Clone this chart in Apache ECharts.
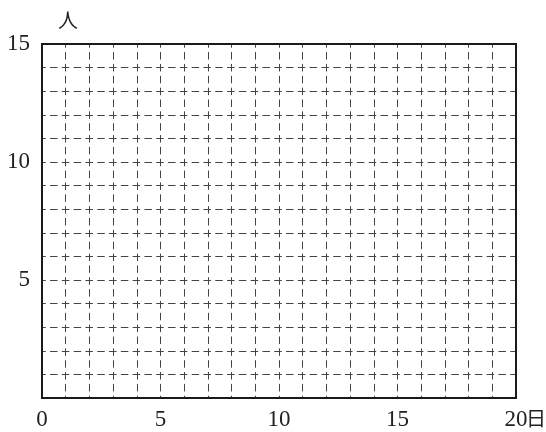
<!DOCTYPE html>
<html><head><meta charset="utf-8">
<script src="https://cdn.jsdelivr.net/npm/echarts@6/dist/echarts.min.js"></script>
<style>html,body{margin:0;padding:0;background:#fff}#c{width:546px;height:432px}</style>
</head><body><div id="c"></div>
<script>
const xMin = 0, xMax = 20, yMin = 0, yMax = 15;
const xTickLabels = [0, 5, 10, 15, 20];
const yTickLabels = [5, 10, 15];
const xName = '日';
const yName = '人';

const font = '"Liberation Serif", "DejaVu Serif", serif';
const chart = echarts.init(document.getElementById('c'), null, {renderer: 'canvas'});
chart.setOption({
  animation: false,
  grid: {left: 42, top: 44, right: 30, bottom: 34, containLabel: false, outerBoundsMode: 'none',
    show: true, borderColor: '#1a1a1a', borderWidth: 2, backgroundColor: 'transparent', z: 5},
  xAxis: {
    type: 'value', min: xMin, max: xMax, interval: 1,
    name: xName, nameLocation: 'end', nameGap: 10, nameMoveOverlap: false,
    nameTextStyle: {fontFamily: '"Noto Sans CJK JP", serif', fontSize: 20, color: '#222', align: 'left', verticalAlign: 'top', padding: [10, 0, 0, 0]},
    axisLine: {show: true, onZero: false, lineStyle: {color: '#1a1a1a', width: 2}},
    axisTick: {show: false},
    axisLabel: {margin: 10, fontFamily: font, fontSize: 23, color: '#222',
      formatter: v => xTickLabels.includes(v) ? String(v) : ''},
    splitLine: {show: true, showMinLine: false, showMaxLine: false,
      lineStyle: {color: '#444', width: 1, type: [7.5, 4.35], dashOffset: 3.75}}
  },
  yAxis: {
    type: 'value', min: yMin, max: yMax, interval: 1,
    name: yName, nameLocation: 'end', nameGap: 14, nameMoveOverlap: false,
    nameTextStyle: {fontFamily: '"Noto Sans CJK JP", serif', fontSize: 20, color: '#222', align: 'center', padding: [0, 0, 0, 52]},
    axisLine: {show: true, onZero: false, lineStyle: {color: '#1a1a1a', width: 2}},
    axisTick: {show: false},
    axisLabel: {margin: 12, fontFamily: font, fontSize: 23, color: '#222',
      formatter: v => yTickLabels.includes(v) ? String(v) : ''},
    splitLine: {show: true, showMinLine: false, showMaxLine: false,
      lineStyle: {color: '#444', width: 1, type: [7.5, 4.3], dashOffset: 3.75}}
  },
  series: [{type: 'line', data: []}]
});
</script></body></html>
